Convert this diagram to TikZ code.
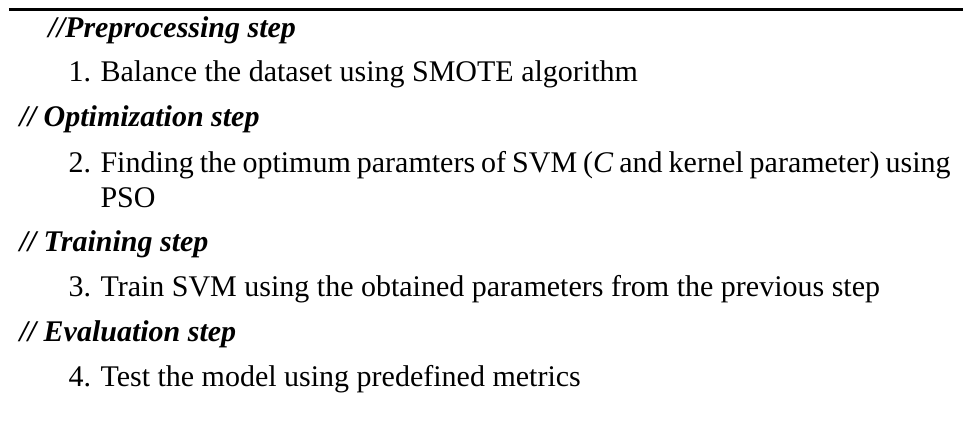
\documentclass[tikz,border=0pt]{standalone}
\usepackage{fontspec}
\setmainfont{Liberation Serif}
\usepackage{tikz}

\tikzset{
  stephead/.style={anchor=base west, inner sep=0pt, font=\fontsize{12pt}{14pt}\selectfont\bfseries\itshape},
  stepnum/.style={anchor=base west, inner sep=0pt, font=\fontsize{12pt}{14pt}\selectfont},
  steptext/.style={anchor=base west, inner sep=0pt, font=\fontsize{12pt}{14pt}\selectfont}
}

\begin{document}
\begin{tikzpicture}[x=0.4pt,y=-0.4pt]
  \useasboundingbox (0,0) rectangle (963,424);
  % top rule of the box
  \coordinate (rulel) at (9,10);
  \coordinate (ruler) at (963,10);
  \draw[line width=1.2pt] (rulel) -- (ruler);

  \node[stephead] (h1) at (48,38) {//Preprocessing step};
  \node[stepnum] (n1) at (68,82) {1.};
  \node[steptext] (t1) at (100,82) {Balance the dataset using SMOTE algorithm};

  \node[stephead] (h2) at (19,127) {// Optimization step};
  \node[stepnum] (n2) at (68,173) {2.};
  % slightly tighter spaces so the long line fits
  \node[steptext] (t2) at (100,173) {\spaceskip=2.4pt plus 1pt Finding the optimum paramters of SVM (\textit{C} and kernel parameter) using};
  \node[steptext] (t2b) at (100,208) {PSO};

  \node[stephead] (h3) at (19,252) {// Training step};
  \node[stepnum] (n3) at (68,297) {3.};
  \node[steptext] (t3) at (100,297) {Train SVM using the obtained parameters from the previous step};

  \node[stephead] (h4) at (19,342) {// Evaluation step};
  \node[stepnum] (n4) at (68,387) {4.};
  \node[steptext] (t4) at (100,387) {Test the model using predefined metrics};
\end{tikzpicture}
\end{document}
